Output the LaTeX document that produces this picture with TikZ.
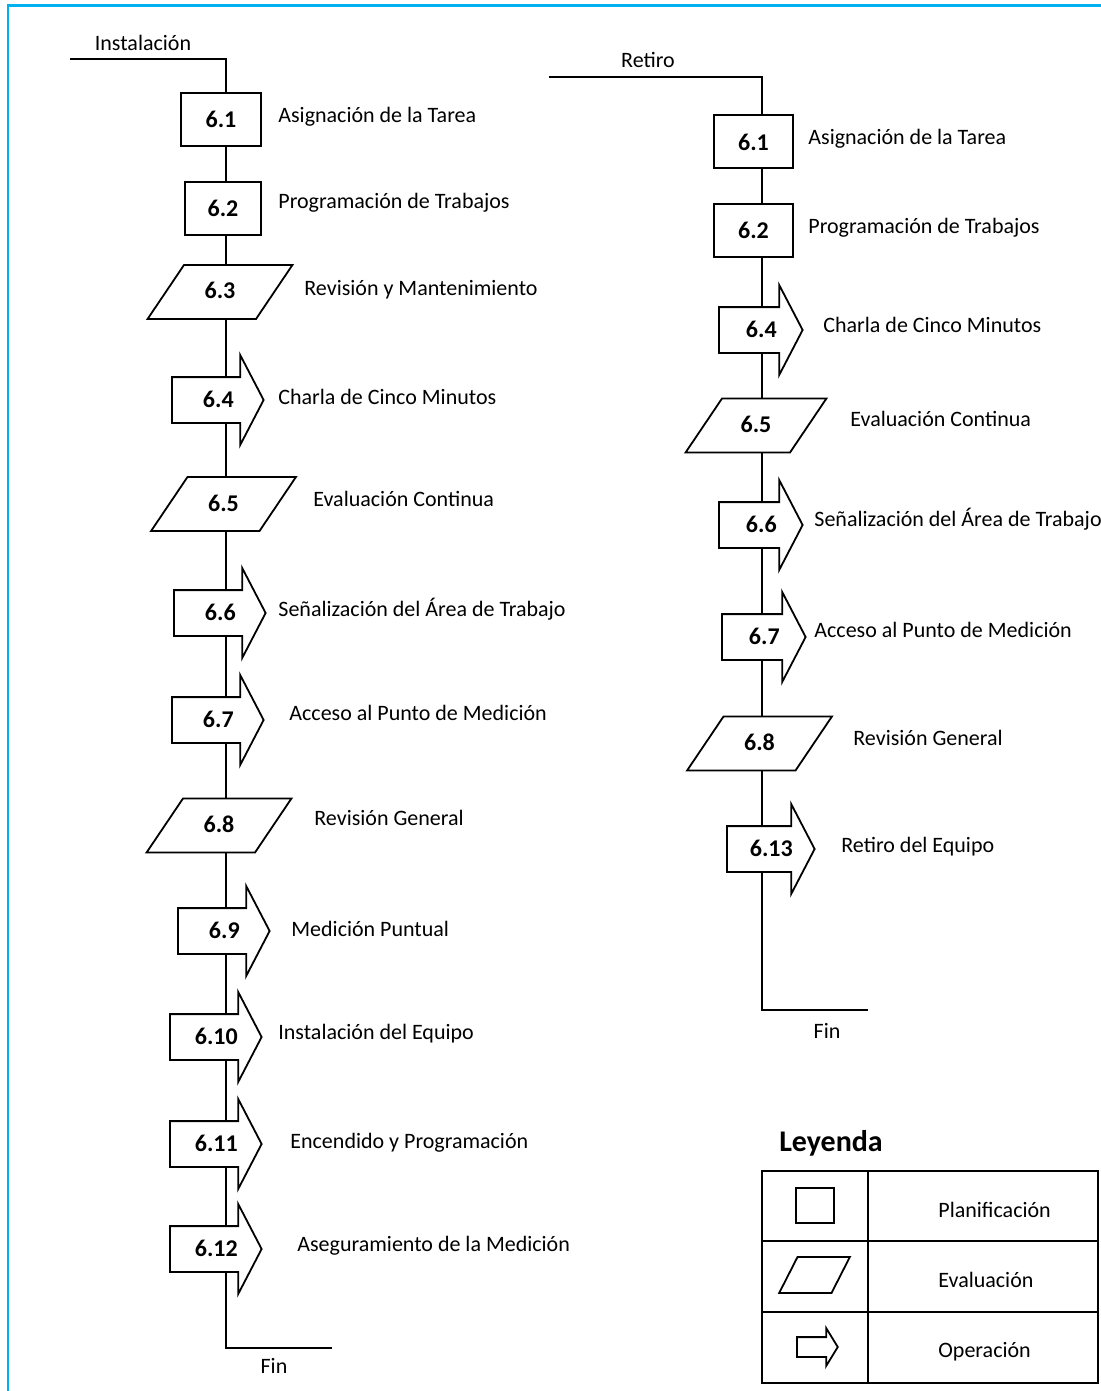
\documentclass[tikz,border=0pt]{standalone}
\usepackage{fontspec}
\setmainfont{Carlito}
\usepackage{tikz}
\usetikzlibrary{shapes.geometric,shapes.arrows}
\definecolor{marco}{RGB}{0,176,240}
\newcommand{\cifra}{\fontsize{12}{14}\selectfont\bfseries}
\newcommand{\letra}{\fontsize{11}{13}\selectfont}

\begin{document}
\begin{tikzpicture}[x=0.5pt,y=-0.5pt,
	plan/.style={draw,line width=1pt,fill=white,minimum width=40pt,minimum height=26.5pt,inner sep=0pt,font=\cifra},
	eval/.style={draw,line width=0.9pt,fill=white,trapezium,trapezium left angle=56,trapezium right angle=124,
		text width=36pt,align=center,text height=7pt,text depth=0pt,inner xsep=0pt,inner ysep=10pt,font=\cifra},
	oper/.style={draw,line width=0.9pt,fill=white,single arrow,single arrow head extend=11pt,single arrow tip angle=125,
		text width=39pt,align=center,text height=7pt,text depth=0pt,inner xsep=0pt,inner ysep=7.5pt,anchor=tail,font=\cifra,
		execute at begin node={\hspace*{6.5pt}}},
	leyop/.style={draw,line width=0.9pt,fill=white,single arrow,single arrow head extend=4.5pt,single arrow tip angle=117,
		text width=16.5pt,text height=0pt,text depth=0pt,inner xsep=0pt,inner ysep=4.5pt,anchor=tail},
	etiq/.style={anchor=west,inner sep=0pt,text height=9.5pt,text depth=2pt,font=\letra}]
	%the frame
	\useasboundingbox (0,0) rectangle (1101,1391);
	\draw[marco,line width=1.2pt] (8,1391) -- (8,5.5) -- (1101,5.5);

	%instalacion
	\coordinate (instA) at (70,59);
	\coordinate (inst) at (226,59);
	\coordinate (instB) at (226,1348);
	\coordinate (instC) at (332,1348);
	\draw[line width=1pt] (instA) -- (inst) -- (instB) -- (instC);
	\node[font=\letra] (tinst) at (143,43) {Instalación};
	\node[font=\letra] (tfinI) at (274,1366) {Fin};

	\node[plan] (i61) at (221,119.5) {6.1};
	\node[etiq] (ti61) at (278,115) {Asignación de la Tarea};
	\node[plan,minimum width=38pt] (i62) at (223,208.5) {6.2};
	\node[etiq] (ti62) at (278,201) {Programación de Trabajos};
	\node[eval] (i63) at (220,292) {6.3};
	\node[etiq] (ti63) at (304,288) {Revisión y Mantenimiento};
	\node[oper] (i64) at (171,400) {6.4};
	\node[etiq] (ti64) at (278,397) {Charla de Cinco Minutos};
	\node[eval] (i65) at (223.5,504) {6.5};
	\node[etiq] (ti65) at (313,499) {Evaluación Continua};
	\node[oper] (i66) at (173,613) {6.6};
	\node[etiq] (ti66) at (278,609) {Señalización del Área de Trabajo};
	\node[oper] (i67) at (171,720) {6.7};
	\node[etiq] (ti67) at (289,713) {Acceso al Punto de Medición};
	\node[eval] (i68) at (219,825.5) {6.8};
	\node[etiq] (ti68) at (314,818) {Revisión General};
	\node[oper] (i69) at (177,931) {6.9};
	\node[etiq] (ti69) at (291,929) {Medición Puntual};
	\node[oper] (i610) at (169,1037) {6.10};
	\node[etiq] (ti610) at (278,1032) {Instalación del Equipo};
	\node[oper] (i611) at (169,1144) {6.11};
	\node[etiq] (ti611) at (290,1141) {Encendido y Programación};
	\node[oper] (i612) at (169,1249) {6.12};
	\node[etiq] (ti612) at (297,1244) {Aseguramiento de la Medición};

	%retiro
	\coordinate (retA) at (549,77);
	\coordinate (ret) at (762,77);
	\coordinate (retB) at (762,1010);
	\coordinate (retC) at (868,1010);
	\draw[line width=1pt] (retA) -- (ret) -- (retB) -- (retC);
	\node[font=\letra] (tret) at (648,60) {Retiro};
	\node[font=\letra] (tfinR) at (827,1031) {Fin};

	\node[plan,minimum width=39.5pt] (r61) at (753.5,142) {6.1};
	\node[etiq] (tr61) at (808,137) {Asignación de la Tarea};
	\node[plan,minimum width=39.5pt] (r62) at (753.5,230.5) {6.2};
	\node[etiq] (tr62) at (808,226) {Programación de Trabajos};
	\node[oper,text width=35pt] (r64) at (718,330) {6.4};
	\node[etiq] (tr64) at (823,325) {Charla de Cinco Minutos};
	\node[eval,text width=34pt] (r65) at (756,425.5) {6.5};
	\node[etiq] (tr65) at (850,419) {Evaluación Continua};
	\node[oper,text width=35pt] (r66) at (718,525) {6.6};
	\node[etiq] (tr66) at (814,519) {Señalización del Área de Trabajo};
	\node[oper,text width=35pt] (r67) at (721,637) {6.7};
	\node[etiq] (tr67) at (814,630) {Acceso al Punto de Medición};
	\node[eval] (r68) at (759.5,743.5) {6.8};
	\node[etiq] (tr68) at (853,738) {Revisión General};
	\node[oper,text width=37pt] (r613) at (726,849) {6.13};
	\node[etiq] (tr613) at (841,845) {Retiro del Equipo};

	%leyenda
	\node[font=\fontsize{15}{17}\selectfont\bfseries] (tley) at (831,1143) {Leyenda};
	\draw[line width=1pt] (762,1171) rectangle (1098,1383);
	\draw[line width=1pt] (868,1171) -- (868,1383) (762,1241) -- (1098,1241) (762,1312) -- (1098,1312);
	\node[plan,minimum width=19pt,minimum height=17.5pt] (lplan) at (815,1205.5) {};
	\node[eval,text width=17pt,text height=0pt,inner ysep=9pt,trapezium left angle=63,trapezium right angle=117] (leval) at (814.5,1275) {};
	\node[leyop] (lop) at (796,1347) {};
	\node[etiq] (tplan) at (938,1210) {Planificación};
	\node[etiq] (teval) at (938,1280) {Evaluación};
	\node[etiq] (top) at (938,1350) {Operación};
\end{tikzpicture}
\end{document}
